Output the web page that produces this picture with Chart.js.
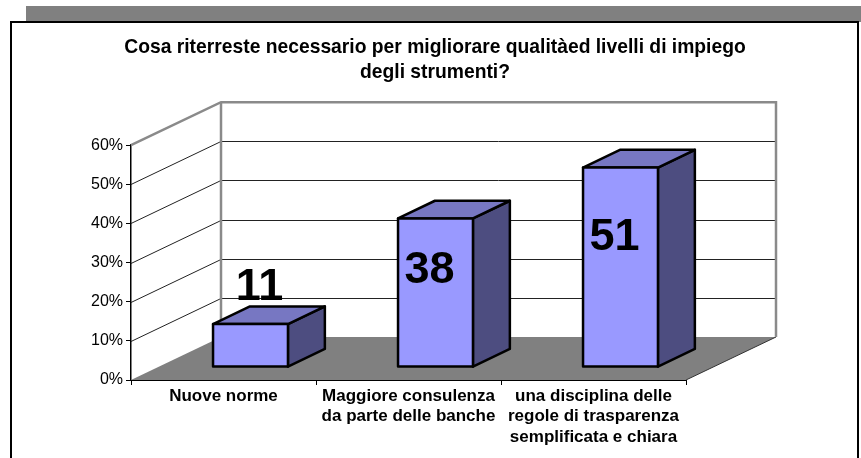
<!DOCTYPE html>
<html>
<head>
<meta charset="utf-8">
<script src="https://cdn.jsdelivr.net/npm/chart.js@4.4.1/dist/chart.umd.min.js"></script>
<style>
html,body{margin:0;padding:0;background:#fff;}
#wrap{position:relative;width:861px;height:458px;}
canvas{display:block;}
</style>
</head>
<body>
<div id="wrap"><canvas id="c" width="861" height="458"></canvas></div>
<script>
// ---- data ----
const categories = [
  ["Nuove norme"],
  ["Maggiore consulenza", "da parte delle banche"],
  ["una disciplina delle", "regole di trasparenza", "semplificata e chiara"]
];
const values = [0.11, 0.38, 0.51];
const valueLabels = ["11", "38", "51"];
const titleLines = ["Cosa riterreste necessario per migliorare qualitàed livelli di impiego", "degli strumenti?"];
const yMax = 0.6;
const yStep = 0.1;

// ---- style ----
const DEPTH = {x: 90, y: -43};     // oblique depth of the floor
const BAR_FRONT = 0.30;            // bar front plane, fraction of depth
const BAR_DEPTH = 0.41;            // bar depth, fraction of depth
const FRONT_COL = '#9999FF', TOP_COL = '#7777C2', SIDE_COL = '#4D4D80';
const WALL_GRAY = '#8a8a8a';
const FONT = "'Liberation Sans', Arial, sans-serif";

const threeD = {
  id: 'threeD',
  beforeDraw(chart) {
    const ctx = chart.ctx;
    ctx.save();
    // shadow band and frame
    ctx.fillStyle = '#808080';
    ctx.fillRect(26, 6, 861 - 26, 16);
    ctx.fillStyle = '#fff';
    ctx.fillRect(11, 22, 847, 440);
    ctx.strokeStyle = '#000';
    ctx.lineWidth = 2;
    ctx.strokeRect(11, 22, 847, 445);
    ctx.restore();
  },
  beforeDatasetsDraw(chart) {
    const ctx = chart.ctx;
    const ys = chart.scales.y;
    const L = chart.chartArea.left, R = chart.chartArea.right;
    const y0 = ys.getPixelForValue(0), yTop = ys.getPixelForValue(yMax);
    ctx.save();
    // floor
    ctx.fillStyle = '#808080';
    ctx.beginPath();
    ctx.moveTo(L, y0); ctx.lineTo(R, y0);
    ctx.lineTo(R + DEPTH.x, y0 + DEPTH.y); ctx.lineTo(L + DEPTH.x, y0 + DEPTH.y);
    ctx.closePath(); ctx.fill();
    ctx.strokeStyle = '#333'; ctx.lineWidth = 1;
    ctx.beginPath(); ctx.moveTo(R, y0); ctx.lineTo(R + DEPTH.x, y0 + DEPTH.y); ctx.stroke();
    // grid lines on side and back wall
    ctx.strokeStyle = '#222'; ctx.lineWidth = 1;
    for (let v = yStep; v < yMax - 1e-9; v += yStep) {
      const py = Math.round(ys.getPixelForValue(v)) + 0.5;
      ctx.beginPath();
      ctx.moveTo(L, py);
      ctx.lineTo(L + DEPTH.x, py + DEPTH.y);
      ctx.lineTo(R + DEPTH.x, py + DEPTH.y);
      ctx.stroke();
    }
    // wall edges
    ctx.strokeStyle = WALL_GRAY; ctx.lineWidth = 2.5;
    ctx.beginPath();
    ctx.moveTo(L, yTop);
    ctx.lineTo(L + DEPTH.x, yTop + DEPTH.y);
    ctx.lineTo(R + DEPTH.x, yTop + DEPTH.y);
    ctx.lineTo(R + DEPTH.x, y0 + DEPTH.y);
    ctx.stroke();
    ctx.beginPath();
    ctx.moveTo(L + DEPTH.x, yTop + DEPTH.y);
    ctx.lineTo(L + DEPTH.x, y0 + DEPTH.y);
    ctx.stroke();
    ctx.restore();
  },
  afterDatasetsDraw(chart) {
    const ctx = chart.ctx;
    const meta = chart.getDatasetMeta(0);
    const fx = DEPTH.x * BAR_FRONT, fy = DEPTH.y * BAR_FRONT;
    const dx = DEPTH.x * BAR_DEPTH, dy = DEPTH.y * BAR_DEPTH;
    ctx.save();
    ctx.lineWidth = 2.5; ctx.strokeStyle = '#000'; ctx.lineJoin = 'round';
    meta.data.forEach((bar, i) => {
      const p = bar.getProps(['x', 'y', 'base', 'width'], true);
      const x1 = p.x - p.width / 2 + fx, x2 = p.x + p.width / 2 + fx;
      const yt = p.y + fy, yb = p.base + fy;
      // side face
      ctx.fillStyle = SIDE_COL;
      ctx.beginPath();
      ctx.moveTo(x2, yt); ctx.lineTo(x2 + dx, yt + dy); ctx.lineTo(x2 + dx, yb + dy); ctx.lineTo(x2, yb);
      ctx.closePath(); ctx.fill(); ctx.stroke();
      // top face
      ctx.fillStyle = TOP_COL;
      ctx.beginPath();
      ctx.moveTo(x1, yt); ctx.lineTo(x1 + dx, yt + dy); ctx.lineTo(x2 + dx, yt + dy); ctx.lineTo(x2, yt);
      ctx.closePath(); ctx.fill(); ctx.stroke();
      // front face
      ctx.fillStyle = FRONT_COL;
      ctx.beginPath();
      ctx.rect(x1, yt, x2 - x1, yb - yt);
      ctx.fill(); ctx.stroke();
      // value label
      ctx.fillStyle = '#000';
      ctx.font = "bold 45px " + FONT;
      ctx.textAlign = 'center';
      const cx = (x1 + x2) / 2;
      if (values[i] < 0.2) {
        ctx.textBaseline = 'alphabetic';
        ctx.fillText(valueLabels[i], cx + 9, yt - 24);
      } else {
        ctx.textBaseline = 'middle';
        ctx.fillText(valueLabels[i], cx - 6, yb - 0.65 * (yb - yt));
      }
    });
    ctx.restore();
  }
};

new Chart(document.getElementById('c'), {
  type: 'bar',
  data: {
    labels: categories,
    datasets: [{
      data: values,
      yAxisID: 'y',
      backgroundColor: 'rgba(0,0,0,0)',
      borderWidth: 0,
      categoryPercentage: 1.0,
      barPercentage: 0.405
    }]
  },
  plugins: [threeD],
  options: {
    responsive: false,
    animation: false,
    devicePixelRatio: 1,
    layout: {padding: {left: 9, right: 0, top: 0, bottom: 0}},
    plugins: {
      legend: {display: false},
      tooltip: {enabled: false},
      title: {
        display: true,
        text: titleLines,
        color: '#000',
        font: {family: FONT, size: 19.3, weight: 'bold', lineHeight: 1.3},
        padding: {top: 35, bottom: 60}
      }
    },
    scales: {
      x: {
        afterFit(scale) { scale.height = 78; },
        grid: {display: true, drawOnChartArea: false, drawTicks: true, tickLength: 5, color: '#000', offset: true},
        border: {display: true, color: '#000', width: 1},
        ticks: {color: '#000', font: {family: FONT, size: 17, weight: 'bold', lineHeight: 1.2}, padding: 1, maxRotation: 0, autoSkip: false}
      },
      y: {
        min: 0, max: yMax,
        position: 'left',
        afterFit(scale) { scale.width = 122; },
        grid: {display: true, drawOnChartArea: false, drawTicks: true, tickLength: 5, color: '#000'},
        border: {display: true, color: '#000', width: 1.5},
        ticks: {
          stepSize: yStep, color: '#000', padding: 3,
          font: {family: FONT, size: 16},
          callback: v => Math.round(v * 100) + '%'
        }
      },
      yRightSpace: {
        type: 'linear',
        position: 'right',
        display: true,
        afterFit(scale) { scale.width = 175; },
        grid: {display: false},
        border: {display: false},
        ticks: {display: false}
      }
    }
  }
});
</script>
</body>
</html>
